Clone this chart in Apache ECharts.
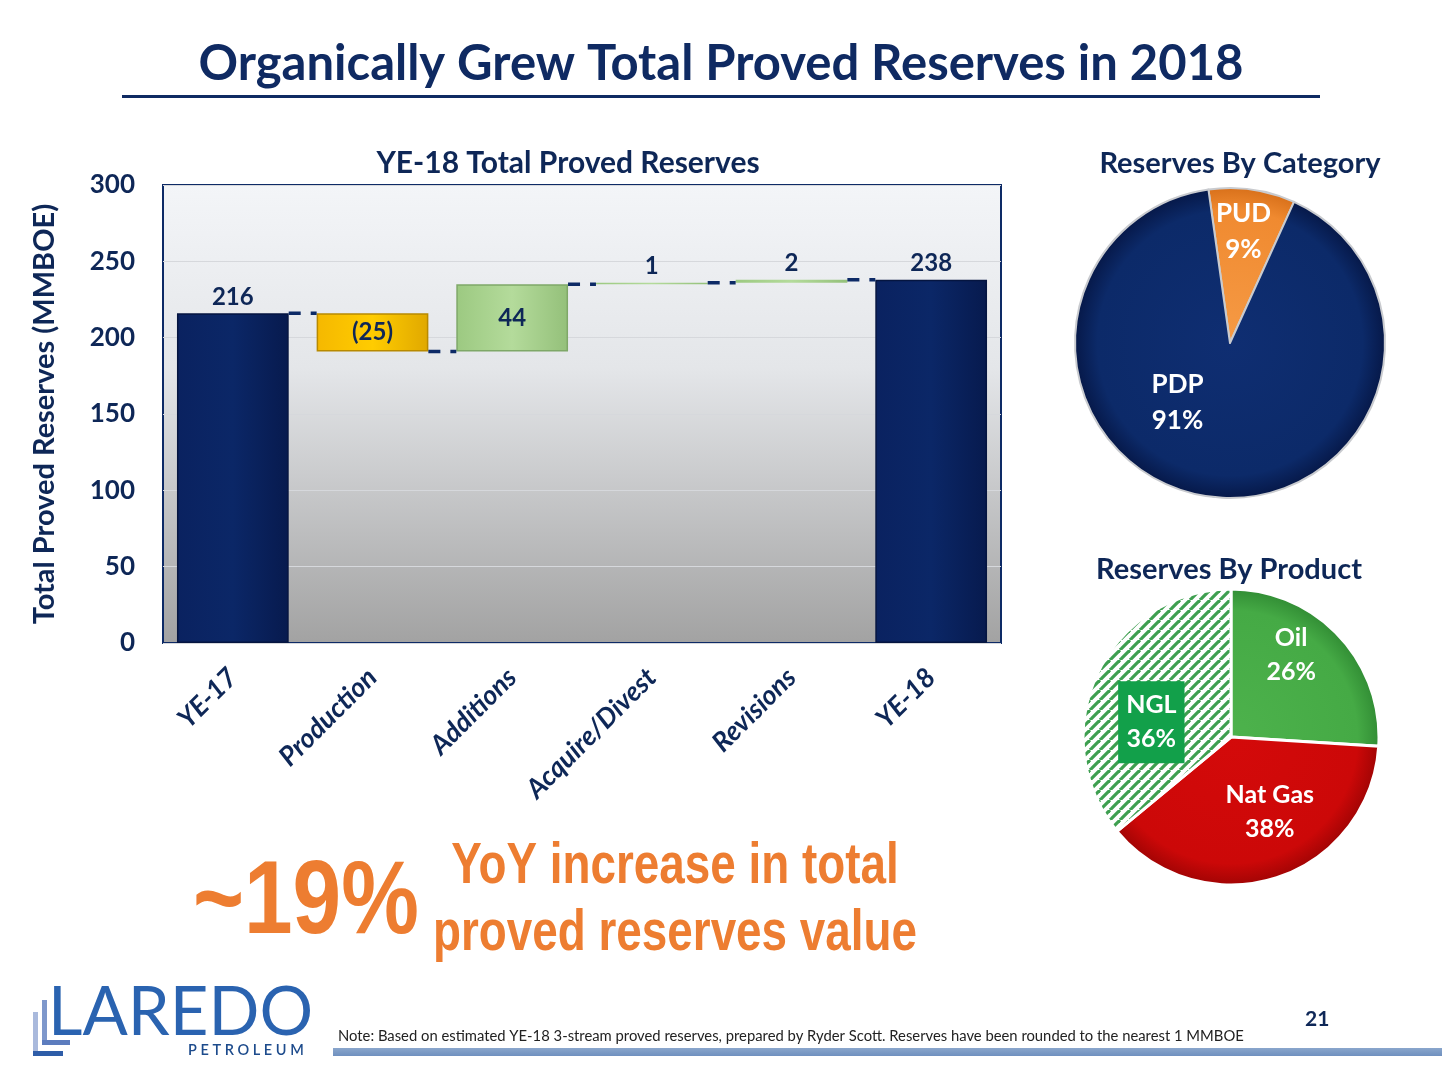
<!DOCTYPE html>
<html><head><meta charset="utf-8">
<script src="https://cdn.jsdelivr.net/npm/echarts@6/dist/echarts.min.js"></script>
<style>html,body{margin:0;padding:0;background:#fff}#c{width:1442px;height:1081px}</style>
</head><body><div id="c"></div>
<script>
// ---------- DATA ----------
const categories = ['YE-17', 'Production', 'Additions', 'Acquire/Divest', 'Revisions', 'YE-18'];
const changes = [216, -25, 44, 1, 2, 238];
const isTotal = [true, false, false, false, false, true];
const yTicks = [0, 50, 100, 150, 200, 250, 300];
const categoryNames = ['PUD', 'PDP'];
const categoryShares = [9, 91];
const productNames = ['Oil', 'Nat Gas', 'NGL'];
const productShares = [26, 38, 36];

// ---------- STYLE ----------
const NAVY = '#0D2A66';
const TXT = '#0E2757';
const FONT = 'Lato, "Open Sans", sans-serif';
const ORANGE = '#ED7D31';
const NARROW = 'bold {s}px "Liberation Sans", Arial, sans-serif';

// waterfall derivation
const base = [], heights = [], levels = [];
let run = 0;
changes.forEach((c, i) => {
  if (isTotal[i]) { base.push(0); heights.push(c); run = c; }
  else if (c >= 0) { base.push(run); heights.push(c); run += c; }
  else { base.push(run + c); heights.push(-c); run += c; }
  levels.push(run);
});
const fmt = (c) => c < 0 ? '(' + Math.abs(c) + ')' : String(c);

const vgrad = (a, b, c) => ({type: 'linear', x: 0, y: 0, x2: 1, y2: 0,
  colorStops: [{offset: 0, color: a}, {offset: 0.5, color: b}, {offset: 1, color: c}]});
function barColor(i) {
  if (isTotal[i]) return vgrad('#0A2260', '#0B2767', '#071A4E');
  if (changes[i] < 0) return vgrad('#F5B800', '#FFCC00', '#E0A800');
  return vgrad('#9CC981', '#B4DB9B', '#94C07A');
}
const labelInside = (i) => !isTotal[i] && heights[i] > 10;

const valueData = heights.map((h, i) => ({
  value: h,
  itemStyle: {color: barColor(i), borderColor: isTotal[i] ? '#051540' : (changes[i] < 0 ? '#B88A00' : '#7FA868'), borderWidth: heights[i] > 5 ? 1.5 : 0},
  label: {show: true, position: labelInside(i) ? 'inside' : 'top', distance: 4, formatter: fmt(changes[i])}
}));

// pattern for NGL
function hatch() {
  const cv = document.createElement('canvas');
  const s = 10; cv.width = s; cv.height = s;
  const g = cv.getContext('2d');
  g.fillStyle = '#ffffff'; g.fillRect(0, 0, s, s);
  g.strokeStyle = '#3E9F50'; g.lineWidth = 3.2;
  [-s, 0, s].forEach((ox) => {
    g.beginPath(); g.moveTo(ox, s); g.lineTo(ox + s, 0); g.stroke();
  });
  return cv;
}

const pie1Colors = [
  {type: 'radial', x: 1230, y: 343, r: 156, global: true, colorStops: [{offset: 0, color: '#F59A45'}, {offset: 0.85, color: '#F08A30'}, {offset: 1, color: '#D8701A'}]},
  {type: 'radial', x: 1230, y: 343, r: 156, global: true, colorStops: [{offset: 0, color: '#0F2E72'}, {offset: 0.85, color: '#0C2A69'}, {offset: 1, color: '#061848'}]}
];
const pie2Colors = [
  {type: 'radial', x: 1231, y: 737, r: 149, global: true, colorStops: [{offset: 0, color: '#4DB24C'}, {offset: 0.85, color: '#45AA45'}, {offset: 1, color: '#318C34'}]},
  {type: 'radial', x: 1231, y: 737, r: 149, global: true, colorStops: [{offset: 0, color: '#D40A0A'}, {offset: 0.85, color: '#CC0808'}, {offset: 1, color: '#A00404'}]},
  {image: hatch(), repeat: 'repeat'}
];
const pie1Offsets = [[2, -32], [-41, -20]];
const pie2Offsets = [[4, -29], [15, 2], [-10, 18]];

const pie1Data = categoryNames.map((n, i) => ({name: n, value: categoryShares[i], itemStyle: {color: pie1Colors[i]}}));
const pie2Data = productNames.map((n, i) => ({
  name: n, value: productShares[i], itemStyle: {color: pie2Colors[i]},
  label: n === 'NGL' ? {backgroundColor: '#12A04A', padding: [8, 8, 6, 8]} : {}
}));

const chart = echarts.init(document.getElementById('c'), null, {renderer: 'canvas'});
chart.setOption({
  backgroundColor: '#ffffff',
  animation: false,
  textStyle: {fontFamily: FONT},
  title: [
    {text: 'YE-18 Total Proved Reserves', left: 563, top: 143, textAlign: 'center',
      textStyle: {fontFamily: FONT, fontSize: 30, fontWeight: 'bold', color: TXT}},
    {text: 'Reserves By Category', left: 1235, top: 144, textAlign: 'center',
      textStyle: {fontFamily: FONT, fontSize: 29, fontWeight: 'bold', color: TXT}},
    {text: 'Reserves By Product', left: 1224, top: 550, textAlign: 'center',
      textStyle: {fontFamily: FONT, fontSize: 29, fontWeight: 'bold', color: TXT}}
  ],
  grid: {left: 163, top: 185, width: 838, height: 458, show: true,
    borderColor: NAVY, borderWidth: 2,
    backgroundColor: {type: 'linear', x: 0, y: 0, x2: 0, y2: 1,
      colorStops: [{offset: 0, color: '#F3F5F8'}, {offset: 0.4, color: '#E4E6E9'}, {offset: 1, color: '#A2A2A2'}]}},
  xAxis: {
    type: 'category', data: categories,
    axisLine: {show: false}, axisTick: {show: false},
    axisLabel: {rotate: 45, margin: 30, color: TXT, fontSize: 27, fontWeight: 'bold', fontStyle: 'italic', fontFamily: FONT}
  },
  yAxis: {
    type: 'value', min: 0, max: 300, interval: 50,
    name: 'Total Proved Reserves (MMBOE)', nameLocation: 'middle', nameGap: 104, nameRotate: 90,
    nameTextStyle: {color: TXT, fontSize: 29, fontWeight: 'bold', fontFamily: FONT},
    axisLine: {show: false}, axisTick: {show: false},
    axisLabel: {color: TXT, fontSize: 26, fontWeight: 'bold', margin: 28, fontFamily: FONT},
    splitLine: {lineStyle: {color: '#D6D8DC', width: 1}}
  },
  series: [
    {type: 'bar', stack: 'w', data: base, barWidth: '80%', itemStyle: {color: 'transparent'}, silent: true},
    {type: 'bar', stack: 'w', data: valueData, barWidth: '80%',
      label: {color: TXT, fontSize: 24, fontWeight: 'bold', fontFamily: FONT}},
    {type: 'custom', data: levels.slice(0, -1).map((v, i) => [i, v]),
      renderItem: function (params, api) {
        const i = api.value(0), lv = api.value(1);
        const p1 = api.coord([i, lv]), p2 = api.coord([i + 1, lv]);
        const hw = api.size([1, 0])[0] * 0.4;
        return {type: 'line', shape: {x1: p1[0] + hw, y1: p1[1], x2: p2[0] - hw, y2: p2[1]},
          style: {stroke: NAVY, lineWidth: 3.5, lineDash: [12, 10]}};
      }, z: 5},
    {type: 'pie', center: [1230, 343], radius: 155, startAngle: 98, clockwise: true,
      data: pie1Data, itemStyle: {borderColor: '#C9CBCF', borderWidth: 2},
      label: {position: 'inside', color: '#fff', fontSize: 26, fontWeight: 'bold', fontFamily: FONT, lineHeight: 36,
        formatter: (p) => p.name + '\n' + p.value + '%'},
      labelLayout: (p) => ({dx: pie1Offsets[p.dataIndex][0], dy: pie1Offsets[p.dataIndex][1]}),
      emphasis: {disabled: true}},
    {type: 'pie', center: [1231, 737], radius: 148, startAngle: 90, clockwise: true,
      data: pie2Data, itemStyle: {borderColor: '#ffffff', borderWidth: 3},
      label: {position: 'inside', color: '#fff', fontSize: 25, fontWeight: 'bold', fontFamily: FONT, lineHeight: 34,
        formatter: (p) => p.name + '\n' + p.value + '%'},
      labelLayout: (p) => ({dx: pie2Offsets[p.dataIndex][0], dy: pie2Offsets[p.dataIndex][1]}),
      emphasis: {disabled: true}}
  ],
  graphic: [
    {type: 'text', left: 'center', top: 40, style: {text: 'Organically Grew Total Proved Reserves in 2018',
      font: 'bold 49px ' + FONT, fill: '#0F2A62'}},
    {type: 'rect', shape: {x: 122, y: 95, width: 1198, height: 3}, style: {fill: '#0F2A62'}},
    {type: 'text', x: 193, y: 852, scaleX: 0.84, style: {text: '~19%', font: NARROW.replace('{s}', 104), fill: ORANGE}},
    {type: 'text', x: 675, y: 838, scaleX: 0.79, style: {text: 'YoY increase in total', textAlign: 'center', font: NARROW.replace('{s}', 58), fill: ORANGE}},
    {type: 'text', x: 675, y: 905, scaleX: 0.79, style: {text: 'proved reserves value', textAlign: 'center', font: NARROW.replace('{s}', 58), fill: ORANGE}},
    // logo
    {type: 'rect', shape: {x: 33, y: 1012, width: 5, height: 44}, style: {fill: '#A9B9DC'}},
    {type: 'rect', shape: {x: 33, y: 1051, width: 30, height: 5}, style: {fill: '#2E5DA8'}},
    {type: 'rect', shape: {x: 42, y: 1000, width: 5, height: 45}, style: {fill: '#7E97CB'}},
    {type: 'rect', shape: {x: 42, y: 1040, width: 28, height: 5}, style: {fill: '#5C7CBE'}},
    {type: 'text', x: 48, y: 980, style: {text: 'LAREDO', font: '400 67px Lato, sans-serif', fill: '#2A63B0'}},
    {type: 'text', x: 188, y: 1043, style: {text: 'P E T R O L E U M', font: '600 14.5px Lato, sans-serif', fill: '#1D4B8C'}},
    {type: 'text', x: 338, y: 1029, style: {text: 'Note: Based on estimated YE-18 3-stream proved reserves, prepared by Ryder Scott. Reserves have been rounded to the nearest 1 MMBOE',
      font: '14.8px Lato, sans-serif', fill: '#222'}},
    {type: 'text', x: 1305, y: 1009, style: {text: '21', font: 'bold 21px Lato, sans-serif', fill: TXT}},
    {type: 'rect', shape: {x: 333, y: 1048, width: 1109, height: 8},
      style: {fill: {type: 'linear', x: 0, y: 0, x2: 0, y2: 1, colorStops: [{offset: 0, color: '#8AA6CC'}, {offset: 1, color: '#6F90BF'}]}}}
  ]
});
</script></body></html>
